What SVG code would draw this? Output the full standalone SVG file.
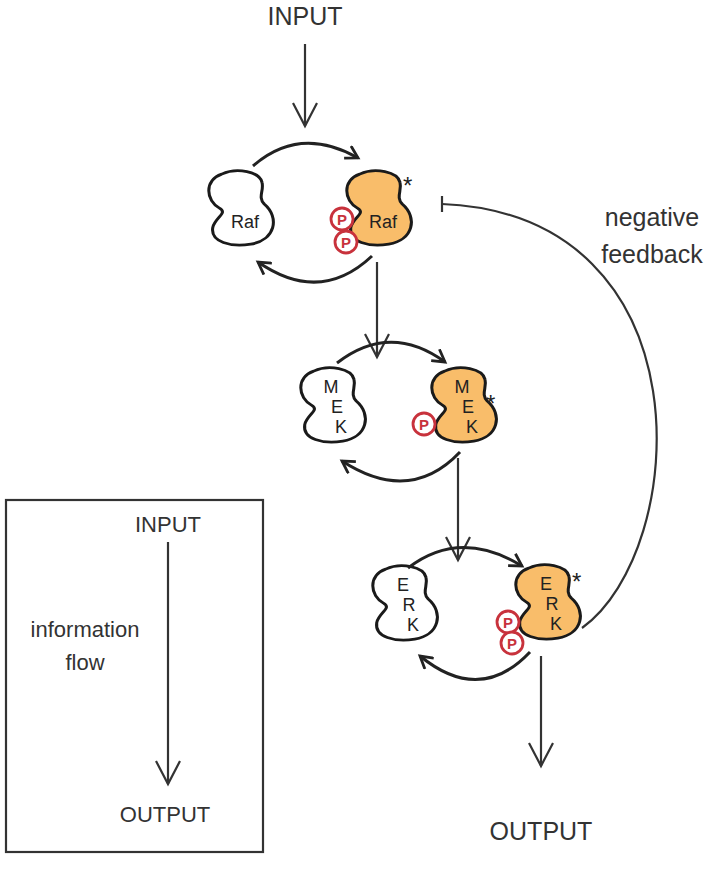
<svg xmlns="http://www.w3.org/2000/svg" width="720" height="870" viewBox="0 0 720 870">
<style>
text{font-family:"Liberation Sans",Arial,sans-serif;fill:#333}
.big{font-size:25px}
.leg{font-size:22px}
.lbl{font-size:18px;fill:#222}
.c{fill:none;stroke:#222;stroke-width:3}
.a{fill:none;stroke:#333;stroke-width:2.2}
.blob{fill:#fff;stroke:#1a1a1a;stroke-width:2.7}
.act{fill:#f9bd6a;stroke:#1a1a1a;stroke-width:2.7}
.p{fill:#fff;stroke:#c8323c;stroke-width:2.8}
.pt{font-size:15px;font-weight:bold;fill:#c8323c;text-anchor:middle}
.star{font-size:24px;fill:#222}
</style>
<defs>
<path id="b" d="M 14 4 C 28 -3, 48 2, 50 12 C 52 20, 46 26, 52 33 C 66 46, 62 68, 40 72 C 22 75, 4 70, 6 56 C 8 46, 20 42, 12 37 C 0 30, -2 10, 14 4 Z"/>
<marker id="v" markerWidth="16" markerHeight="16" refX="13" refY="8" orient="auto" markerUnits="userSpaceOnUse"><path d="M1 1 L13 8 L1 15" fill="none" stroke="#222" stroke-width="2.8"/></marker>
<marker id="va" markerWidth="28" markerHeight="28" refX="25" refY="14" orient="auto" markerUnits="userSpaceOnUse"><path d="M2 2 L25 14 L2 26" fill="none" stroke="#333" stroke-width="2.2"/></marker>
</defs>
<text class="big" x="305" y="25" text-anchor="middle">INPUT</text>
<text class="big" x="541" y="840" text-anchor="middle">OUTPUT</text>
<text class="big" x="652" y="226" text-anchor="middle">negative</text>
<text class="big" x="652" y="263" text-anchor="middle">feedback</text>
<g id="raf">
<use href="#b" class="blob" transform="translate(206,170) scale(1.12,1.03)"/>
<text class="lbl" x="245" y="228" text-anchor="middle">Raf</text>
</g>
<g id="raf-p">
<use href="#b" class="act" transform="translate(344,170) scale(1.12,1.03)"/>
<text class="lbl" x="383" y="228" text-anchor="middle">Raf</text>
<text class="star" x="403" y="194">*</text>
<circle class="p" cx="342" cy="219" r="11"/><text class="pt" x="342" y="225">P</text>
<circle class="p" cx="346" cy="242" r="11"/><text class="pt" x="346" y="248">P</text>
</g>
<g id="mek">
<use href="#b" class="blob" transform="translate(298,367) scale(1.12,1.03)"/>
<text class="lbl" x="331" y="393" text-anchor="middle">M</text>
<text class="lbl" x="337" y="413" text-anchor="middle">E</text>
<text class="lbl" x="341" y="433" text-anchor="middle">K</text>
</g>
<g id="mek-p">
<use href="#b" class="act" transform="translate(429,367) scale(1.12,1.03)"/>
<text class="lbl" x="462" y="393" text-anchor="middle">M</text>
<text class="lbl" x="468" y="413" text-anchor="middle">E</text>
<text class="lbl" x="472" y="433" text-anchor="middle">K</text>
<text class="star" x="486" y="412">*</text>
<circle class="p" cx="424" cy="424" r="11"/><text class="pt" x="424" y="430">P</text>
</g>
<g id="erk">
<use href="#b" class="blob" transform="translate(370,565) scale(1.12,1.03)"/>
<text class="lbl" x="403" y="591" text-anchor="middle">E</text>
<text class="lbl" x="409" y="611" text-anchor="middle">R</text>
<text class="lbl" x="413" y="631" text-anchor="middle">K</text>
</g>
<g id="erk-p">
<use href="#b" class="act" transform="translate(513,564) scale(1.12,1.03)"/>
<text class="lbl" x="546" y="590" text-anchor="middle">E</text>
<text class="lbl" x="552" y="610" text-anchor="middle">R</text>
<text class="lbl" x="556" y="630" text-anchor="middle">K</text>
<text class="star" x="572" y="590">*</text>
<circle class="p" cx="508" cy="622" r="11"/><text class="pt" x="508" y="628">P</text>
<circle class="p" cx="512" cy="643" r="11"/><text class="pt" x="512" y="649">P</text>
</g>
<g id="connectors">
<path class="a" d="M305 44 V126" marker-end="url(#va)"/>
<path class="a" d="M377 262 V357" marker-end="url(#va)"/>
<path class="a" d="M458 458 V560" marker-end="url(#va)"/>
<path class="a" d="M541 656 V766" marker-end="url(#va)"/>
<path class="c" d="M253 166 Q 300 125 358 158" marker-end="url(#v)"/>
<path class="c" d="M372 256 Q 320 305 258 262" marker-end="url(#v)"/>
<path class="c" d="M337 363 Q 390 322 445 362" marker-end="url(#v)"/>
<path class="c" d="M460 452 Q 410 505 342 461" marker-end="url(#v)"/>
<path class="c" d="M408 568 Q 460 528 522 566" marker-end="url(#v)"/>
<path class="c" d="M530 652 Q 480 705 420 656" marker-end="url(#v)"/>
<path class="a" d="M582 628 C 690 550, 710 215, 442 204"/>
<path class="a" d="M442 196 V212"/>
</g>
<g id="legend">
<rect x="6" y="500" width="257" height="352" fill="none" stroke="#333" stroke-width="2.2"/>
<text class="leg" x="168" y="532" text-anchor="middle">INPUT</text>
<path class="a" d="M168 542 V784" marker-end="url(#va)"/>
<text class="leg" x="85" y="637" text-anchor="middle">information</text>
<text class="leg" x="85" y="670" text-anchor="middle">flow</text>
<text class="leg" x="165" y="822" text-anchor="middle">OUTPUT</text>
</g>
</svg>
